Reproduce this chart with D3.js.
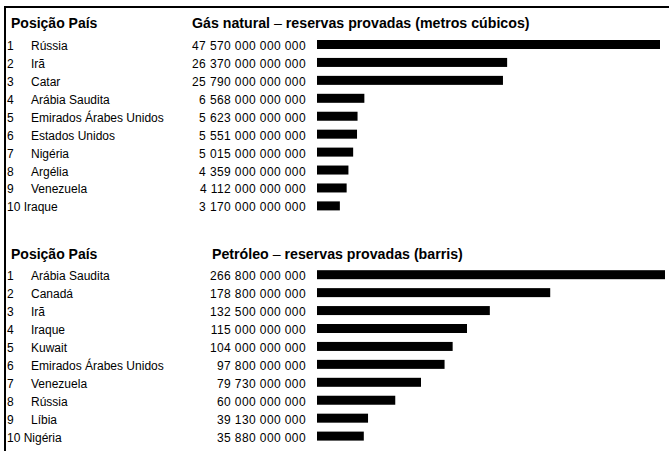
<!DOCTYPE html>
<html>
<head>
<meta charset="utf-8">
<script src="https://cdn.jsdelivr.net/npm/d3@7"></script>
<style>
  html, body { margin: 0; padding: 0; background: #fff; }
  svg { display: block; font-family: "Liberation Sans", Arial, sans-serif; }
</style>
</head>
<body>
<div id="chart"></div>
<script>
const gasCountries = ["Rússia", "Irã", "Catar", "Arábia Saudita", "Emirados Árabes Unidos",
  "Estados Unidos", "Nigéria", "Argélia", "Venezuela", "Iraque"];
const gasValues = [47570000000000, 26370000000000, 25790000000000, 6568000000000, 5623000000000,
  5551000000000, 5015000000000, 4359000000000, 4112000000000, 3170000000000];

const oilCountries = ["Arábia Saudita", "Canadá", "Irã", "Iraque", "Kuwait",
  "Emirados Árabes Unidos", "Venezuela", "Rússia", "Líbia", "Nigéria"];
const oilValues = [266800000000, 178800000000, 132500000000, 115000000000, 104000000000,
  97800000000, 79730000000, 60000000000, 39130000000, 35880000000];

const width = 669, height = 451;
const fmt = d3.formatLocale({ decimal: ",", thousands: " ", grouping: [3], currency: ["", ""] }).format(",.0f");

const svg = d3.select("#chart").append("svg")
    .attr("width", width)
    .attr("height", height);

// frame (top and left rule)
svg.append("line")
    .attr("x1", 4).attr("x2", width).attr("y1", 7).attr("y2", 7)
    .attr("stroke", "#000").attr("stroke-width", 2);
svg.append("line")
    .attr("x1", 5).attr("x2", 5).attr("y1", 6).attr("y2", height)
    .attr("stroke", "#000").attr("stroke-width", 2);

function panel(top, countries, values, titleBold, titleRest, titleX, barEnd) {
  const g = svg.append("g");
  const x = d3.scaleLinear().domain([0, d3.max(values)]).range([317, barEnd]);
  const y = d3.scaleLinear().domain([0, 9]).range([top + 21.6, top + 183]);

  g.append("text")
      .attr("x", 11).attr("y", top)
      .attr("font-size", 14).attr("font-weight", "bold")
      .text("Posição País");

  const t = g.append("text")
      .attr("x", titleX).attr("y", top)
      .attr("font-size", 14.2).attr("font-weight", "bold");
  t.append("tspan").text(titleBold);
  t.append("tspan").attr("font-weight", "normal").text(" – ");
  t.append("tspan").text(titleRest);

  const rows = g.selectAll("g.row")
    .data(countries.map((c, i) => ({ rank: i + 1, country: c, value: values[i] })))
    .join("g")
      .attr("class", "row");

  rows.append("text")
      .attr("x", 7)
      .attr("y", (d, i) => y(i))
      .attr("font-size", 12)
      .text(d => d.rank < 10 ? d.rank : d.rank + " " + d.country);

  rows.filter(d => d.rank < 10).append("text")
      .attr("x", 31)
      .attr("y", (d, i) => y(i))
      .attr("font-size", 12)
      .text(d => d.country);

  rows.append("text")
      .attr("x", 306)
      .attr("y", (d, i) => y(i))
      .attr("font-size", 12)
      .attr("letter-spacing", 0.4)
      .attr("text-anchor", "end")
      .text(d => fmt(d.value));

  rows.append("rect")
      .attr("x", x(0))
      .attr("y", (d, i) => y(i) - 10)
      .attr("width", d => x(d.value) - x(0))
      .attr("height", 9)
      .attr("fill", "#000");
}

panel(28.4, gasCountries, gasValues, "Gás natural", "reservas provadas (metros cúbicos)", 192, 660);
panel(258.6, oilCountries, oilValues, "Petróleo", "reservas provadas (barris)", 212, 665);
</script>
</body>
</html>
